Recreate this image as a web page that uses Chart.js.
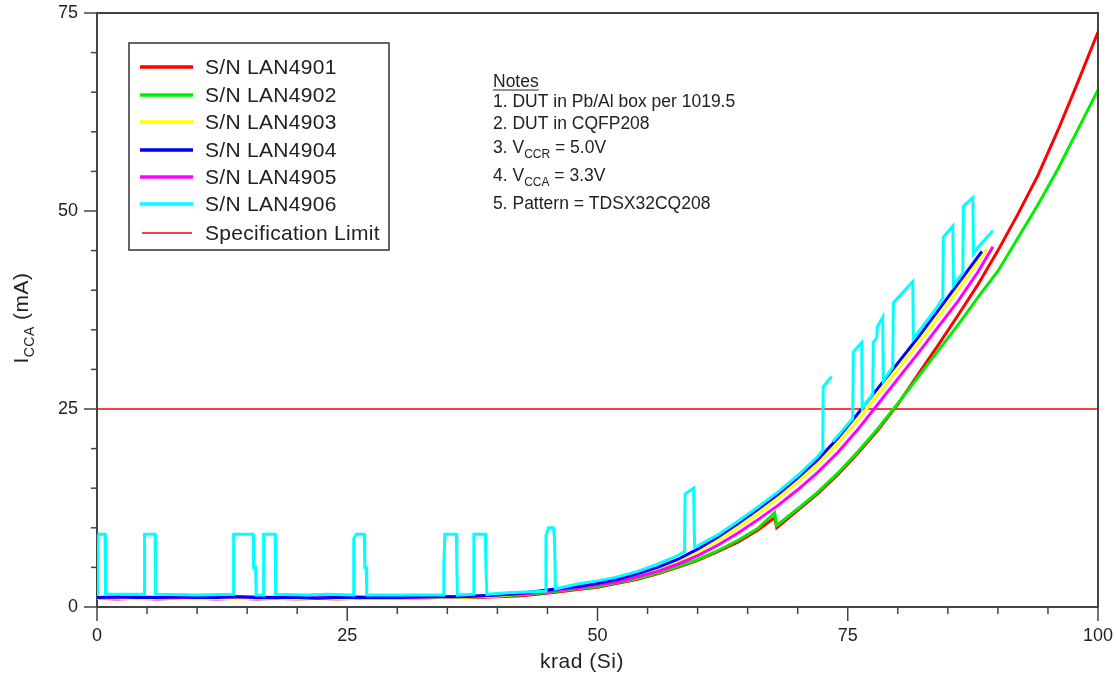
<!DOCTYPE html>
<html>
<head>
<meta charset="utf-8">
<title>ICCA vs krad</title>
<script src="https://cdn.jsdelivr.net/npm/chart.js@4.4.1/dist/chart.umd.min.js"></script>
<style>
  html, body { margin: 0; padding: 0; background: #ffffff; }
  #wrap { width: 1116px; height: 684px; }
</style>
</head>
<body>
<div id="wrap"><canvas id="iccaChart" width="1116" height="684"></canvas></div>
<script>
// ==============================================
// DATA (krad, mA)
// ==============================================
const X_TICKS = [0, 25, 50, 75, 100];
const Y_TICKS = [0, 25, 50, 75];
const SPEC_LIMIT = 25;

const LOW_DOSE = [0, 2, 4, 6, 8, 10, 12, 14, 16, 18, 20, 22, 24, 26, 28, 30, 32, 34, 36, 38, 40];

const lowRed     = [1.1, 1.0, 1.1, 1.0, 1.1, 1.1, 1.0, 1.1, 1.0, 1.1, 1.0, 1.1, 1.0, 1.1, 1.1, 1.1, 1.1, 1.2, 1.2, 1.2, 1.3];
const lowGreen   = [1.2, 1.2, 1.1, 1.2, 1.2, 1.1, 1.2, 1.2, 1.3, 1.2, 1.1, 1.2, 1.2, 1.2, 1.1, 1.2, 1.2, 1.2, 1.3, 1.3, 1.4];
const lowYellow  = [1.1, 1.1, 1.0, 1.1, 1.1, 1.0, 1.1, 1.0, 1.1, 1.1, 1.0, 1.1, 1.0, 1.1, 1.1, 1.1, 1.1, 1.2, 1.2, 1.3, 1.4];
const lowBlue    = [1.2, 1.3, 1.2, 1.2, 1.3, 1.2, 1.2, 1.3, 1.2, 1.2, 1.2, 1.1, 1.2, 1.2, 1.2, 1.2, 1.3, 1.3, 1.3, 1.4, 1.5];
const lowMagenta = [1.2, 1.2, 1.3, 1.2, 1.2, 1.2, 1.3, 1.3, 1.2, 1.2, 1.2, 1.2, 1.2, 1.3, 1.2, 1.2, 1.2, 1.3, 1.3, 1.4, 1.5];

// bagian naik (x, y)
const riseRed = [[42,1.4],[44,1.6],[46,1.9],[48,2.2],[50,2.5],[52,3.0],[54,3.5],[56,4.2],[58,5.0],[60,5.9],[62,7.0],[64,8.2],[66,9.7],[67.7,11.3],[67.9,10.0],[70,12.2],[72,14.3],[74,16.7],[76,19.4],[78,22.3],[80,25.6],[82,29.3],[84,33.0],[86,36.8],[88,40.7],[90,45.0],[92,49.6],[94,54.5],[96,60.2],[98,66.3],[100,72.6]];
const riseGreen = [[42,1.5],[44,1.7],[46,2.0],[48,2.3],[50,2.6],[52,3.1],[54,3.6],[56,4.3],[58,5.1],[60,6.0],[62,7.1],[64,8.4],[66,9.9],[67.7,11.9],[67.9,10.3],[70,12.4],[72,14.5],[74,16.9],[76,19.6],[78,22.5],[80,25.7],[82,29.0],[84,32.3],[86,35.6],[88,39.1],[90,42.4],[92,46.6],[94,50.8],[96,55.3],[98,60.3],[100,65.3]];
const riseYellow = [[42,1.6],[44,1.9],[46,2.2],[48,2.5],[50,2.9],[52,3.4],[54,4.0],[56,4.8],[58,5.8],[60,7.0],[62,8.4],[64,10.0],[66,11.8],[68,13.7],[70,15.8],[72,18.0],[74,20.6],[76,23.6],[78,26.8],[80,30.0],[82,33.2],[84,36.6],[86,40.0],[88,43.6],[88.9,45.2]];
const riseBlue = [[42,1.7],[44,2.0],[46,2.3],[48,2.6],[50,3.0],[52,3.5],[54,4.2],[56,5.0],[58,6.0],[60,7.3],[62,8.8],[64,10.5],[66,12.3],[68,14.2],[70,16.3],[72,18.6],[74,21.3],[76,24.4],[78,27.6],[80,30.8],[82,34.0],[84,37.4],[86,40.8],[88,44.2],[88.4,44.9]];
const riseMagenta = [[42,1.6],[44,1.8],[46,2.1],[48,2.4],[50,2.8],[52,3.2],[54,3.8],[56,4.5],[58,5.4],[60,6.5],[62,7.8],[64,9.3],[66,11.0],[68,12.8],[70,14.8],[72,17.0],[74,19.5],[76,22.4],[78,25.6],[80,28.8],[82,32.0],[84,35.3],[86,38.6],[88,42.3],[89.5,45.5]];

// LAN4906 dengan lonjakan (null = data hilang)
const cyanPoints = [
  [0,1.6],[0.05,8.8],[0.2,9.2],[0.8,9.2],[0.85,1.6],
  [4.7,1.6],[4.75,9.2],[5.8,9.2],[5.85,1.6],
  [10,1.5],[13.6,1.6],[13.65,9.2],[15.6,9.2],[15.65,5.0],[15.85,5.0],[15.9,1.5],
  [16.6,1.5],[16.65,9.2],[17.8,9.2],[17.85,1.6],
  [21,1.5],[23,1.6],[25.6,1.5],[25.65,8.6],[25.9,9.2],[26.7,9.2],[26.75,5.0],[26.9,5.0],[26.95,1.5],
  [30,1.5],[34.6,1.5],[34.65,5.2],[34.75,9.2],[35.9,9.2],[35.95,5.2],[36.0,1.5],
  [37.6,1.6],[37.65,9.2],[38.8,9.2],[38.85,5.2],[38.95,1.6],
  [41,1.8],[44.8,2.0],[44.85,9.0],[45.1,10.0],[45.6,10.0],[45.7,8.8],[45.8,2.3],
  [48,2.9],[50,3.3],[52,3.8],[54,4.5],[56,5.4],[58,6.5],
  [58.7,7.0],[58.75,14.3],[59.6,15.0],[59.7,7.5],
  [62,9.1],[64,10.8],[66,12.6],[68,14.5],[70,16.6],[72,19.0],
  [72.5,19.8],[72.55,27.8],[73.4,29.1],[73.45,null],[73.5,20.9],
  [74,21.6],[75.5,23.8],[75.55,32.2],[76.4,33.4],[76.45,25.1],
  [77.5,26.9],[77.55,33.4],[77.9,34.0],[77.95,35.4],[78.5,36.6],[78.55,28.6],
  [79.5,30.3],[79.55,38.4],[81.5,41.1],[81.55,33.9],
  [82,34.6],[84,38.0],[84.5,39.0],[84.55,46.7],[85.5,48.1],[85.55,40.6],
  [86.5,42.2],[86.55,50.6],[87.5,51.7],[87.55,44.6],
  [88,45.4],[89.5,47.5]
];

const SERIES_LABELS = ['S/N LAN4901', 'S/N LAN4902', 'S/N LAN4903', 'S/N LAN4904', 'S/N LAN4905', 'S/N LAN4906'];
const SERIES_COLORS = ['#ff0000', '#00ee00', '#ffff00', '#0000ff', '#ff00ff', '#00ffff'];

const NOTES = [
  ['1. DUT in Pb/Al box per 1019.5'],
  ['2. DUT in CQFP208'],
  ['3. V', 'CCR', ' = 5.0V'],
  ['4. V', 'CCA', ' = 3.3V'],
  ['5. Pattern = TDSX32CQ208']
];

// ==============================================
// Helper
// ==============================================
function toXY(pairs) {
  return pairs.map(p => ({ x: p[0], y: p[1] }));
}

function withLow(low, rise) {
  const pts = LOW_DOSE.map((d, i) => ({ x: d, y: low[i] }));
  return pts.concat(toXY(rise));
}

const FONT = '"Liberation Sans", Arial, sans-serif';

// garis sumbu, tick kecil, bingkai, judul, legenda & catatan
const decorPlugin = {
  id: 'decor',
  afterDraw(chart) {
    const ctx = chart.ctx;
    const { left, right, top, bottom } = chart.chartArea;
    const xs = chart.scales.x;
    const ys = chart.scales.y;

    ctx.save();
    ctx.strokeStyle = '#444';
    ctx.lineWidth = 2;
    // bingkai atas & kanan
    ctx.beginPath();
    ctx.moveTo(left, top); ctx.lineTo(right, top); ctx.lineTo(right, bottom);
    ctx.stroke();

    ctx.lineWidth = 1.5;
    for (let v = 0; v <= 100; v += 5) {
      const px = xs.getPixelForValue(v);
      const len = v % 25 === 0 ? 14 : 7;
      ctx.beginPath(); ctx.moveTo(px, bottom); ctx.lineTo(px, bottom + len); ctx.stroke();
    }
    for (let v = 0; v <= 75; v += 5) {
      const py = ys.getPixelForValue(v);
      const len = v % 25 === 0 ? 13 : 6;
      ctx.beginPath(); ctx.moveTo(left, py); ctx.lineTo(left - len, py); ctx.stroke();
    }

    // judul sumbu x
    ctx.fillStyle = '#222';
    ctx.font = '21px ' + FONT;
    ctx.letterSpacing = '0.5px';
    ctx.textAlign = 'center';
    ctx.textBaseline = 'middle';
    ctx.fillText('krad (Si)', 582, 662);

    // judul sumbu y (dengan subskrip)
    ctx.save();
    ctx.translate(21, 318);
    ctx.rotate(-Math.PI / 2);
    const parts = [['I', 21, 0], ['CCA', 14, 6], [' (mA)', 21, 0]];
    let total = 0;
    parts.forEach(p => { ctx.font = p[1] + 'px ' + FONT; total += ctx.measureText(p[0]).width; });
    let cx = -total / 2;
    ctx.textAlign = 'left';
    ctx.textBaseline = 'alphabetic';
    parts.forEach(p => {
      ctx.font = p[1] + 'px ' + FONT;
      ctx.fillText(p[0], cx, 7 + p[2]);
      cx += ctx.measureText(p[0]).width;
    });
    ctx.restore();

    // legenda
    ctx.strokeStyle = '#333';
    ctx.lineWidth = 1.5;
    ctx.strokeRect(129, 43, 260, 207);
    const rowY = [67, 95, 122, 150, 177, 204, 233];
    ctx.font = '21px ' + FONT;
    ctx.letterSpacing = '0.3px';
    ctx.textAlign = 'left';
    ctx.textBaseline = 'middle';
    SERIES_LABELS.forEach((lbl, i) => {
      ctx.strokeStyle = SERIES_COLORS[i];
      ctx.lineWidth = 3.5;
      ctx.beginPath(); ctx.moveTo(140, rowY[i]); ctx.lineTo(193, rowY[i]); ctx.stroke();
      ctx.fillStyle = '#222';
      ctx.fillText(lbl, 205, rowY[i] + 1);
    });
    ctx.strokeStyle = '#ff0000';
    ctx.lineWidth = 1.5;
    ctx.beginPath(); ctx.moveTo(142, rowY[6]); ctx.lineTo(192, rowY[6]); ctx.stroke();
    ctx.fillText('Specification Limit', 205, rowY[6] + 1);

    // catatan
    ctx.letterSpacing = '0px';
    ctx.font = '17.5px ' + FONT;
    ctx.textBaseline = 'alphabetic';
    ctx.fillText('Notes', 493, 87);
    const nw = ctx.measureText('Notes').width;
    ctx.strokeStyle = '#222';
    ctx.lineWidth = 1.2;
    ctx.beginPath(); ctx.moveTo(493, 90); ctx.lineTo(493 + nw, 90); ctx.stroke();
    const noteY = [107, 129, 153, 181, 209];
    NOTES.forEach((n, i) => {
      let nx = 493;
      n.forEach((seg, k) => {
        const sub = k === 1;
        ctx.font = (sub ? '12px ' : '17.5px ') + FONT;
        ctx.fillText(seg, nx, noteY[i] + (sub ? 5 : 0));
        nx += ctx.measureText(seg).width;
      });
    });
    ctx.restore();
  }
};

// ==============================================
// RENDER
// ==============================================
function renderChart() {
  const ctx = document.getElementById('iccaChart').getContext('2d');
  const lows = [lowRed, lowGreen, lowYellow, lowBlue, lowMagenta];
  const rises = [riseRed, riseGreen, riseYellow, riseBlue, riseMagenta];
  const drawOrder = [6, 5, 4, 2, 3, 1];

  const datasets = SERIES_LABELS.map((lbl, i) => ({
    label: lbl,
    data: i < 5 ? withLow(lows[i], rises[i]) : toXY(cyanPoints),
    borderColor: SERIES_COLORS[i],
    borderWidth: 3,
    pointRadius: 0,
    tension: 0,
    spanGaps: false,
    order: drawOrder[i]
  }));

  datasets.push({
    label: 'Specification Limit',
    data: [{ x: 0, y: SPEC_LIMIT }, { x: 100, y: SPEC_LIMIT }],
    borderColor: '#ff0000',
    borderWidth: 1.5,
    pointRadius: 0,
    order: 7
  });

  new Chart(ctx, {
    type: 'line',
    data: { datasets },
    options: {
      responsive: false,
      animation: false,
      events: [],
      layout: { padding: { left: 0, right: 18, top: 13, bottom: 0 } },
      scales: {
        x: {
          type: 'linear',
          min: 0, max: 100,
          afterFit: s => { s.height = 77; s.paddingLeft = 0; s.paddingRight = 0; },
          afterBuildTicks: s => { s.ticks = X_TICKS.map(v => ({ value: v })); },
          ticks: { color: '#222', font: { family: FONT, size: 18 }, padding: 18, maxRotation: 0 },
          grid: { display: false, drawTicks: false },
          border: { display: true, color: '#444', width: 2 }
        },
        y: {
          type: 'linear',
          min: 0, max: 75,
          afterFit: s => { s.width = 97; s.paddingTop = 0; s.paddingBottom = 0; },
          afterBuildTicks: s => { s.ticks = Y_TICKS.map(v => ({ value: v })); },
          ticks: { color: '#222', font: { family: FONT, size: 18 }, padding: 19 },
          grid: { display: false, drawTicks: false },
          border: { display: true, color: '#444', width: 2 }
        }
      },
      plugins: {
        legend: { display: false },
        title: { display: false },
        tooltip: { enabled: false }
      }
    },
    plugins: [decorPlugin]
  });
}

document.addEventListener('DOMContentLoaded', renderChart);
</script>
</body>
</html>
